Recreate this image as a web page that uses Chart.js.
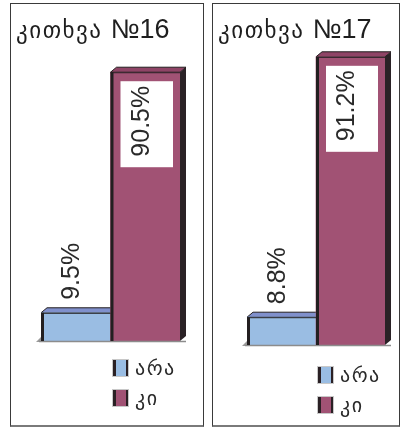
<!DOCTYPE html>
<html>
<head>
<meta charset="utf-8">
<script src="https://cdn.jsdelivr.net/npm/chart.js@4.4.1/dist/chart.umd.min.js"></script>
<style>
  html, body { margin: 0; padding: 0; background: #fff; }
  body { width: 403px; height: 429px; position: relative; overflow: hidden; }
  .panel {
    position: absolute; top: 3px; height: 421px;
    border: 1px solid #3a3a3a; border-bottom: 2px solid #7a7a7a;
    box-sizing: content-box;
  }
  .panel canvas { position: absolute; left: 0; top: 0; }
  .title {
    position: absolute; left: 5px; top: 10px; white-space: nowrap; color: #1e1e1e;
  }
  .title .ka { font-family: "DejaVu Sans", sans-serif; font-size: 23px; letter-spacing: 1.5px; }
  .title .num { font-family: "Liberation Sans", Arial, sans-serif; font-size: 27px; margin-left: 8px; }
  .legend { position: absolute; font-family: "DejaVu Sans", sans-serif; font-size: 20px; letter-spacing: 1.5px; color: #2a2a2a; }
  .legend .row { display: flex; align-items: center; height: 30px; }
  .legend .sw {
    width: 10px; height: 16px; outline: 1px solid #c8c8c8;
    border-left: 3px solid #2a2024; border-right: 2px solid #2a2024; margin-right: 7px;
  }
</style>
</head>
<body>
<div class="panel" id="p1" style="left:10px; width:192px;">
  <canvas id="c1" width="192" height="421"></canvas>
  <div class="title"><span class="ka">კითხვა</span><span class="num">№16</span></div>
  <div class="legend" id="lg1" style="left:102px; top:349px;"></div>
</div>
<div class="panel" id="p2" style="left:212px; width:186px;">
  <canvas id="c2" width="186" height="421"></canvas>
  <div class="title"><span class="ka">კითხვა</span><span class="num">№17</span></div>
  <div class="legend" id="lg2" style="left:105px; top:356px;"></div>
</div>
<script>
// კატეგორიები და მნიშვნელობები (%)
const categories = ['არა', 'კი'];
const values16 = [9.5, 90.5];
const values17 = [8.8, 91.2];

const frontColors = ['#9abde3', '#a15274'];
const topColors = ['#8090cc', '#8f4466'];
const sideColor = '#2a2226';
const edgeColor = '#231f20';

const DX = 6, DY = -5;

// ყალბი 3D ეფექტი: ზედა და გვერდითი წახნაგები
const bar3d = {
  id: 'bar3d',
  beforeDatasetsDraw(chart) {
    const ctx = chart.ctx;
    const bars = chart.getDatasetMeta(0).data;
    ctx.save();
    bars.forEach((b, i) => {
      const l = b.x - b.width / 2, r = b.x + b.width / 2;
      // გვერდი
      ctx.fillStyle = sideColor;
      ctx.beginPath();
      ctx.moveTo(r, b.y); ctx.lineTo(r + DX, b.y + DY);
      ctx.lineTo(r + DX, b.base + DY); ctx.lineTo(r, b.base);
      ctx.closePath(); ctx.fill();
      // ზედა
      ctx.fillStyle = topColors[i];
      ctx.strokeStyle = edgeColor;
      ctx.lineWidth = 1;
      ctx.beginPath();
      ctx.moveTo(l, b.y); ctx.lineTo(l + DX, b.y + DY);
      ctx.lineTo(r + DX, b.y + DY); ctx.lineTo(r, b.y);
      ctx.closePath(); ctx.fill(); ctx.stroke();
    });
    // იატაკის ხაზი
    const first = bars[0];
    const fl = first.x - first.width / 2;
    ctx.fillStyle = '#9a9a9a';
    ctx.beginPath();
    ctx.moveTo(fl - 5, first.base + 1); ctx.lineTo(fl, first.base - 4); ctx.lineTo(fl, first.base + 1);
    ctx.closePath(); ctx.fill();
    ctx.restore();
  },
  afterDatasetsDraw(chart) {
    const ctx = chart.ctx;
    const bars = chart.getDatasetMeta(0).data;
    const vals = chart.data.datasets[0].data;
    ctx.save();
    const first = bars[0], last = bars[bars.length - 1];
    ctx.strokeStyle = '#8c8c8c';
    ctx.lineWidth = 1.5;
    ctx.beginPath();
    ctx.moveTo(first.x - first.width / 2 - 2, first.base + 0.5);
    ctx.lineTo(last.x + last.width / 2 + DX, last.base + 0.5);
    ctx.stroke();
    bars.forEach((b, i) => {
      const l = b.x - b.width / 2, r = b.x + b.width / 2;
      ctx.fillStyle = edgeColor;
      ctx.fillRect(l, b.y, 3, b.base - b.y);
      ctx.fillRect(l, b.y, r - l, 1);
      const txt = vals[i].toFixed(1) + '%';
      ctx.font = '25px "Liberation Sans", Arial, sans-serif';
      if (i === 0) {
        ctx.save();
        ctx.translate(l + 38, b.y - 13);
        ctx.rotate(-Math.PI / 2);
        ctx.fillStyle = '#2a2a2a';
        ctx.textAlign = 'left';
        ctx.textBaseline = 'alphabetic';
        ctx.fillText(txt, 0, 0);
        ctx.restore();
      } else {
        const bx = l + 10, by = b.y + 9, bw = (r - 7) - bx, bh = 86;
        ctx.fillStyle = '#fff';
        ctx.fillRect(bx, by, bw, bh);
        ctx.save();
        ctx.translate(bx + 28, by + 40);
        ctx.rotate(-Math.PI / 2);
        ctx.fillStyle = '#2a2a2a';
        ctx.textAlign = 'center';
        ctx.textBaseline = 'alphabetic';
        ctx.fillText(txt, 0, 0);
        ctx.restore();
      }
    });
    ctx.restore();
  }
};

function makeChart(id, values, pad) {
  return new Chart(document.getElementById(id), {
    type: 'bar',
    data: {
      labels: categories,
      datasets: [{
        data: values,
        backgroundColor: frontColors,
        borderWidth: 0,
        categoryPercentage: 1,
        barPercentage: 1
      }]
    },
    options: {
      responsive: false,
      animation: false,
      layout: { padding: pad },
      plugins: { legend: { display: false }, tooltip: { enabled: false } },
      scales: {
        x: { display: false },
        y: { display: false, min: 0, max: 100 }
      }
    },
    plugins: [bar3d]
  });
}

function makeLegend(id) {
  const el = document.getElementById(id);
  categories.forEach((c, i) => {
    const row = document.createElement('div');
    row.className = 'row';
    const sw = document.createElement('span');
    sw.className = 'sw';
    sw.style.background = frontColors[i];
    const t = document.createElement('span');
    t.textContent = c;
    row.appendChild(sw); row.appendChild(t);
    el.appendChild(row);
  });
}

makeChart('c1', values16, { left: 30, right: 23, top: 40, bottom: 84 });
makeChart('c2', values17, { left: 34, right: 14, top: 25, bottom: 80 });
makeLegend('lg1');
makeLegend('lg2');
</script>
</body>
</html>
